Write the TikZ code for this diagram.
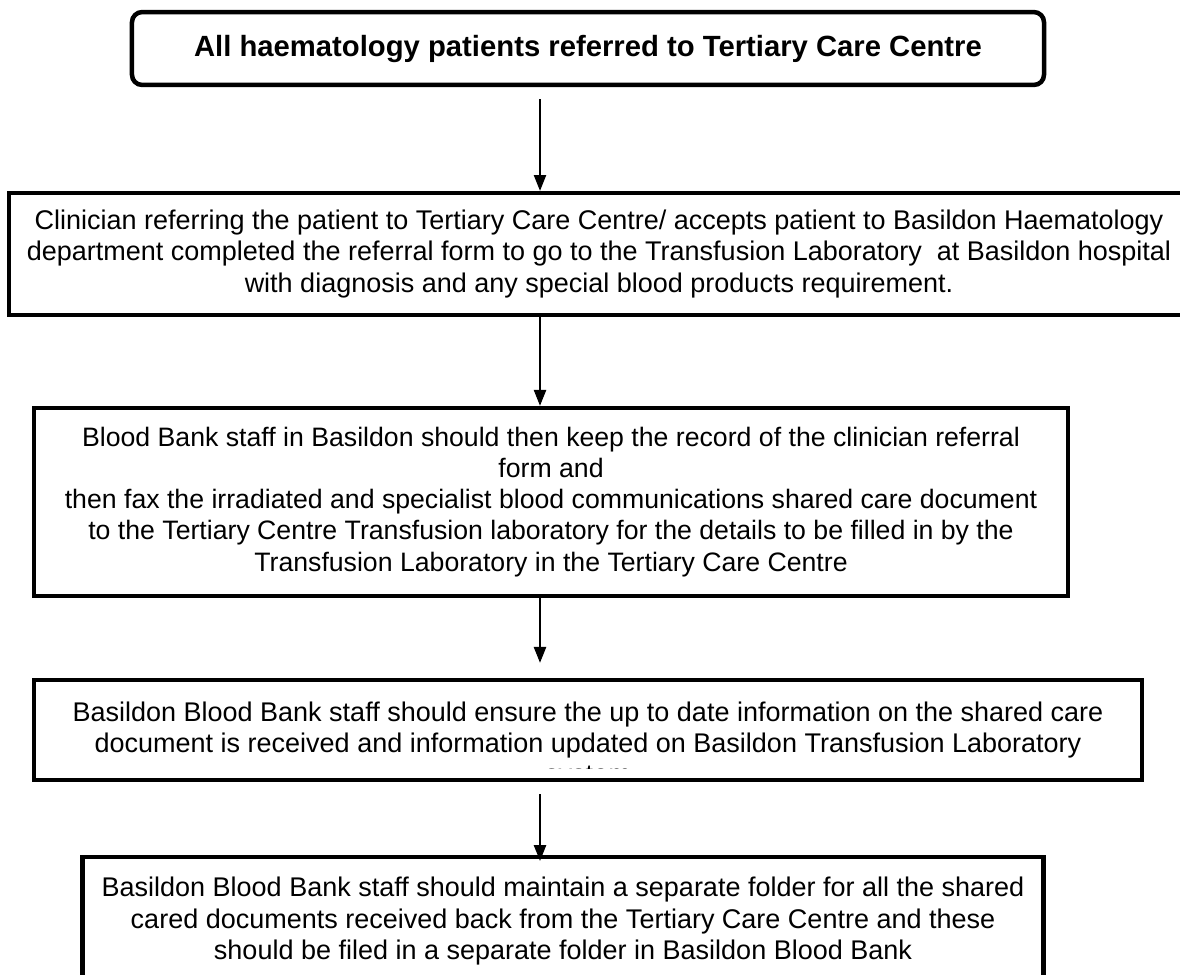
\documentclass[tikz,border=0pt]{standalone}
\usepackage{fontspec}
\setmainfont{Liberation Sans}
\usetikzlibrary{arrows.meta,calc}
\tikzset{
  flowbox/.style={draw,line width=2pt,fill=white,inner sep=0pt,align=center,font=\fontsize{12}{13.8}\selectfont},
  flowtext/.style={inner sep=0pt,align=center,font=\fontsize{12}{13.8}\selectfont},
  flowarrow/.style={line width=0.45pt,-{Triangle[width=5.5pt,length=7pt]}}
}
\begin{document}
\begin{tikzpicture}[x=0.4444pt,y=-0.4444pt,line join=miter]
\path[use as bounding box] (0,0) rectangle (1180,974);
\clip (0,0) rectangle (1180,974);
\coordinate (ax) at (540,0);
\node[flowbox,rounded corners=4.5pt,minimum width=405.3pt,minimum height=32.4pt,font=\bfseries\fontsize{13}{15}\selectfont] (b1) at (588,48.5) {All haematology patients referred to Tertiary Care Centre};
\node[flowbox,minimum width=524.4pt,minimum height=54.2pt] (b2) at (599,254) {Clinician referring the patient to Tertiary Care Centre/ accepts patient to Basildon Haematology\\department completed the referral form to go to the Transfusion Laboratory~ at Basildon hospital\\with diagnosis and any special blood products requirement.};
\node[flowbox,minimum width=459.6pt,minimum height=83.6pt,font=\fontsize{11.85}{13.8}\selectfont] (b3) at (551,502) {Blood Bank staff in Basildon should then keep the record of the clinician referral\\form and\\then fax the irradiated and specialist blood communications shared care document\\to the Tertiary Centre Transfusion laboratory for the details to be filled in by the\\Transfusion Laboratory in the Tertiary Care Centre};
\node[flowbox,minimum width=492.4pt,minimum height=44.4pt] (b4) at (588,730) {};
\begin{scope}
\clip ($(b4.north west)+(3,3)$) rectangle ($(b4.south east)+(-3,-14)$);
\node[flowtext] (t4) at ($(b4.north)+(0,68)$) {Basildon Blood Bank staff should ensure the up to date information on the shared care\\document is received and information updated on Basildon Transfusion Laboratory\\system};
\end{scope}
\node[flowbox,minimum width=427.1pt,minimum height=54.2pt] (b5) at (563,918) {};
\node[flowtext] (t5) at ($(b5.center)+(0,3)$) {Basildon Blood Bank staff should maintain a separate folder for all the shared\\cared documents received back from the Tertiary Care Centre and these\\should be filed in a separate folder in Basildon Blood Bank};
\draw[flowarrow,shorten <=5.3pt] (b1.south -| ax) -- (b2.north -| ax);
\draw[flowarrow] (b2.south -| ax) -- (b3.north -| ax);
\draw[flowarrow,shorten >=6.7pt] (b3.south -| ax) -- (b4.north -| ax);
\draw[flowarrow,shorten <=5.3pt,shorten >=-2.7pt] (b4.south -| ax) -- (b5.north -| ax);
\end{tikzpicture}
\end{document}
